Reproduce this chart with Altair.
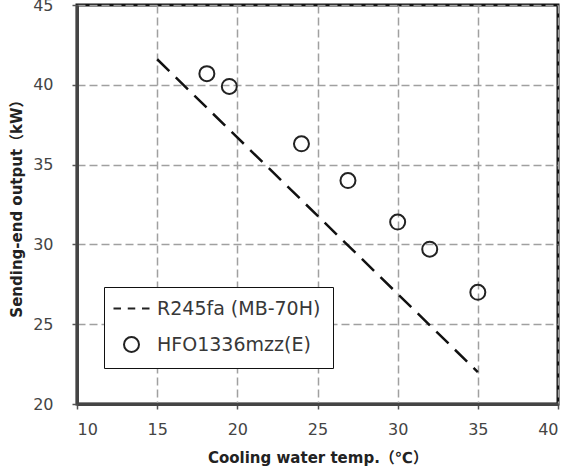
import altair as alt
import pandas as pd

# Series names
series_r245 = "R245fa (MB-70H)"
series_hfo = "HFO1336mzz(E)"

# R245fa (MB-70H): straight dashed trend
temp_r245 = [15.0, 35.0]
out_r245 = [41.6, 22.0]

# HFO1336mzz(E): measured points
temp_hfo = [18.1, 19.5, 24.0, 26.9, 30.0, 32.0, 35.0]
out_hfo = [40.7, 39.9, 36.3, 34.0, 31.4, 29.7, 27.0]

x_ticks = [10, 15, 20, 25, 30, 35, 40]
y_ticks = [20, 25, 30, 35, 40, 45]

df_r245 = pd.DataFrame({"temp": temp_r245, "out": out_r245, "series": series_r245})
df_hfo = pd.DataFrame({"temp": temp_hfo, "out": out_hfo, "series": series_hfo})

FONT = "DejaVu Sans"
TITLE_FONT = "DejaVu Sans, Noto Sans CJK JP"

x_enc = alt.X(
    "temp:Q",
    scale=alt.Scale(domain=[10, 40], nice=False, zero=False),
    axis=alt.Axis(values=x_ticks, title="Cooling water temp.（℃）"),
)
y_enc = alt.Y(
    "out:Q",
    scale=alt.Scale(domain=[20, 45], nice=False, zero=False),
    axis=alt.Axis(values=y_ticks, title="Sending-end output（kW）"),
)

# dashed-line legend symbol drawn as three short segments
dash_path = "M-2.4,0H-1.4M-0.5,0H0.5M1.4,0H2.4"

line = alt.Chart(df_r245).mark_line(
    strokeDash=[17, 9], strokeWidth=2.5, color="#111111"
).encode(x=x_enc, y=y_enc)

points = alt.Chart(df_hfo).mark_point(
    filled=False, size=225, strokeWidth=2, color="#222222", opacity=1
).encode(
    x=x_enc,
    y=y_enc,
    shape=alt.Shape(
        "series:N",
        title=None,
        scale=alt.Scale(domain=[series_r245, series_hfo], range=[dash_path, "circle"]),
        legend=alt.Legend(
            orient="none",
            legendX=27,
            legendY=282,
            padding=12,
            strokeColor="#111111",
            fillColor="white",
            symbolOffset=6,
            labelOffset=16,
            rowPadding=14,
            labelFontSize=19,
            labelFont=FONT,
            labelColor="#383838",
            symbolStrokeWidth=2,
            symbolStrokeColor="#222222",
            symbolFillColor="white",
            symbolSize=225,
            labelLimit=300,
        ),
    ),
)

chart = (
    alt.layer(line, points)
    .properties(
        width=481,
        height=399,
        autosize="none",
        padding={"left": 77, "top": 5, "right": 3, "bottom": 69},
    )
    .configure_view(stroke="#111111", strokeWidth=3)
    .configure_axis(
        grid=True,
        gridColor="#a0a0a0",
        gridDash=[8, 4],
        gridWidth=1.5,
        domainColor="#444444",
        domainWidth=3,
        tickColor="#555555",
        tickSize=5,
        tickWidth=1.5,
        labelFont=FONT,
        labelFontSize=16,
        labelColor="#444444",
        titleFont=TITLE_FONT,
        titleFontSize=15,
        titleFontWeight="bold",
        titleColor="#222222",
    )
    .configure_axisX(labelPadding=12, titlePadding=13)
    .configure_axisY(labelPadding=19, titlePadding=8)
)

chart.save("out.html", embed_options={"renderer": "svg", "actions": False})
